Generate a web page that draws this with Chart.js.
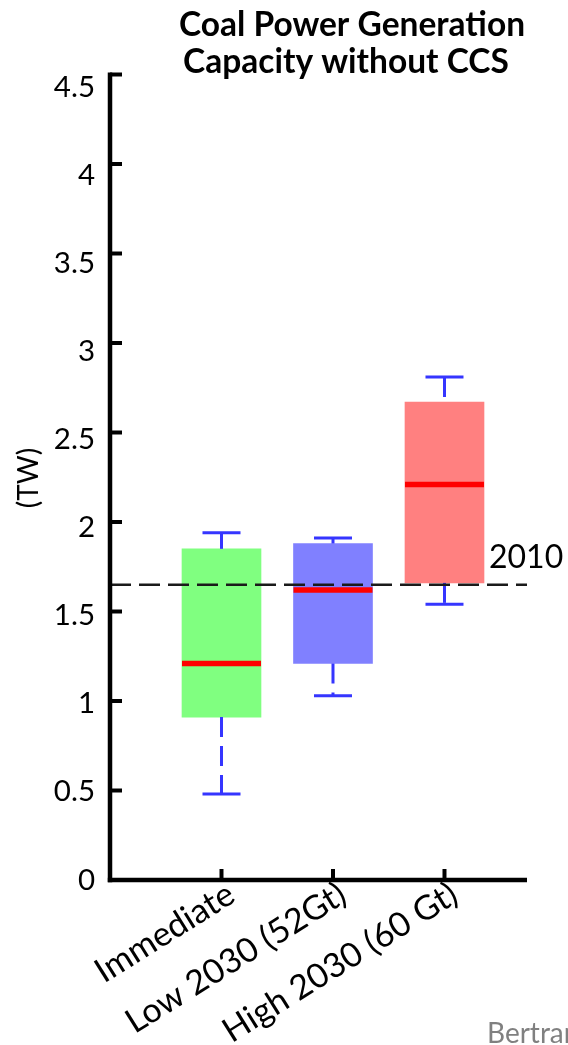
<!DOCTYPE html>
<html>
<head>
<meta charset="utf-8">
<script src="https://cdn.jsdelivr.net/npm/chart.js@4.4.1/dist/chart.umd.min.js"></script>
<style>
  html, body { margin: 0; padding: 0; background: #ffffff; }
  canvas { display: block; }
</style>
</head>
<body>
<canvas id="chart" width="568" height="1045"></canvas>
<script>
// Scenario categories and box statistics (TW)
const categories = ['Immediate', 'Low 2030 (52Gt)', 'High 2030 (60 Gt)'];
const positions = [1, 2, 3];
const whiskerLow = [0.48, 1.03, 1.54];
const quartileLow = [0.91, 1.21, 1.66];
const medians = [1.21, 1.62, 2.21];
const quartileHigh = [1.85, 1.88, 2.67];
const whiskerHigh = [1.94, 1.91, 2.81];
const boxColors = ['#80ff80', '#8080ff', '#ff8080'];

// 2010 reference level
const level2010 = 1.65;
const level2010Label = '2010';

// Axis ticks and texts
const yTicks = [0, 0.5, 1, 1.5, 2, 2.5, 3, 3.5, 4, 4.5];
const titleLines = ['Coal Power Generation', 'Capacity without CCS'];
const yAxisTitle = '(TW)';
const sourceText = 'Bertram';

const FONT = 'Lato, "Open Sans", sans-serif';

const boxes = positions.map((p, i) => ({ x: p, y: [quartileLow[i], quartileHigh[i]] }));

const boxPlotPlugin = {
  id: 'boxPlotExtras',
  afterDatasetsDraw(chart) {
    const ctx = chart.ctx;
    const y = chart.scales.y;
    const bars = chart.getDatasetMeta(0).data;
    ctx.save();
    bars.forEach((bar, i) => {
      const cx = bar.x;
      const half = bar.width / 2;
      // whiskers, each stroked from its higher value downward
      ctx.strokeStyle = '#3535ff';
      ctx.lineWidth = 3;
      ctx.lineCap = 'butt';
      ctx.setLineDash([20, 9]);
      [[whiskerHigh[i], quartileHigh[i]], [quartileLow[i], whiskerLow[i]]].forEach(([a, b]) => {
        ctx.beginPath();
        ctx.moveTo(cx, y.getPixelForValue(a));
        ctx.lineTo(cx, y.getPixelForValue(b));
        ctx.stroke();
      });
      ctx.setLineDash([]);
      // whisker caps
      [whiskerHigh[i], whiskerLow[i]].forEach(v => {
        const py = y.getPixelForValue(v);
        ctx.beginPath();
        ctx.moveTo(cx - 19, py);
        ctx.lineTo(cx + 19, py);
        ctx.stroke();
      });
      // median
      const my = y.getPixelForValue(medians[i]);
      ctx.strokeStyle = '#ff0000';
      ctx.lineWidth = 5.5;
      ctx.beginPath();
      ctx.moveTo(cx - half, my);
      ctx.lineTo(cx + half, my);
      ctx.stroke();
    });

    // 2010 reference line
    const area = chart.chartArea;
    const ry = y.getPixelForValue(level2010);
    ctx.strokeStyle = '#1a1a1a';
    ctx.lineWidth = 2.5;
    ctx.setLineDash([21, 8]);
    ctx.beginPath();
    ctx.moveTo(area.left, ry);
    ctx.lineTo(area.right, ry);
    ctx.stroke();
    ctx.setLineDash([]);
    ctx.fillStyle = '#000000';
    ctx.font = '32px ' + FONT;
    ctx.textAlign = 'left';
    ctx.textBaseline = 'alphabetic';
    ctx.fillText(level2010Label, area.right - 38, ry - 17);
    ctx.restore();
  },
  afterDraw(chart) {
    const ctx = chart.ctx;
    const x = chart.scales.x;
    const y = chart.scales.y;
    const area = chart.chartArea;
    ctx.save();
    ctx.strokeStyle = '#000000';
    ctx.fillStyle = '#000000';
    ctx.lineCap = 'butt';

    // axis lines
    ctx.lineWidth = 4.5;
    ctx.beginPath();
    ctx.moveTo(area.left, area.top - 2);
    ctx.lineTo(area.left, area.bottom + 2.2);
    ctx.stroke();
    ctx.beginPath();
    ctx.moveTo(area.left - 2.2, area.bottom);
    ctx.lineTo(area.right, area.bottom);
    ctx.stroke();

    // inward tick marks
    ctx.lineWidth = 4;
    yTicks.forEach(v => {
      const py = y.getPixelForValue(v);
      ctx.beginPath();
      ctx.moveTo(area.left, py);
      ctx.lineTo(area.left + 12, py);
      ctx.stroke();
    });
    positions.forEach(p => {
      const px = x.getPixelForValue(p);
      ctx.beginPath();
      ctx.moveTo(px, area.bottom);
      ctx.lineTo(px, area.bottom - 11);
      ctx.stroke();
    });

    // title
    ctx.font = 'bold 33.5px ' + FONT;
    ctx.textAlign = 'center';
    ctx.textBaseline = 'alphabetic';
    ctx.fillText(titleLines[0], 352, 36);
    ctx.fillText(titleLines[1], 346, 73);

    // y axis title
    ctx.save();
    ctx.translate(38, 478);
    ctx.rotate(-Math.PI / 2);
    ctx.font = '28px ' + FONT;
    ctx.textAlign = 'center';
    ctx.fillText(yAxisTitle, 0, 0);
    ctx.restore();

    // source note
    ctx.fillStyle = '#808080';
    ctx.font = '28px ' + FONT;
    ctx.textAlign = 'left';
    ctx.fillText(sourceText, 487, 1043);
    ctx.restore();
  }
};

new Chart(document.getElementById('chart'), {
  type: 'bar',
  data: {
    datasets: [{
      data: boxes,
      backgroundColor: boxColors,
      borderWidth: 0,
      barThickness: 79,
      yAxisID: 'y'
    }]
  },
  options: {
    responsive: false,
    animation: false,
    events: [],
    layout: { padding: { left: 0, right: 41, top: 74.5, bottom: 0 } },
    plugins: { legend: { display: false }, tooltip: { enabled: false }, title: { display: false } },
    scales: {
      x: {
        type: 'linear',
        offset: false,
        min: 0,
        max: 3.74,
        grid: { display: false, drawTicks: false, offset: false },
        border: { display: false },
        afterBuildTicks: s => { s.ticks = positions.map(v => ({ value: v })); },
        afterFit: s => { s.height = 165; },
        ticks: {
          autoSkip: false,
          maxRotation: 32,
          minRotation: 32,
          padding: -6,
          labelOffset: 10,
          color: '#000000',
          font: { family: FONT, size: 34 },
          callback: v => categories[positions.indexOf(v)] ?? ''
        }
      },
      y: {
        type: 'linear',
        display: false,
        min: 0,
        max: 4.5
      },
      yLabels: {
        type: 'linear',
        position: 'left',
        min: 0,
        max: 4.572,
        grid: { display: false, drawTicks: false },
        border: { display: false },
        afterBuildTicks: s => { s.ticks = yTicks.map(v => ({ value: v })); },
        afterFit: s => { s.width = 110; },
        ticks: {
          padding: 15,
          color: '#000000',
          font: { family: FONT, size: 29.5 },
          callback: v => String(v)
        }
      }
    }
  },
  plugins: [boxPlotPlugin]
});
</script>
</body>
</html>
